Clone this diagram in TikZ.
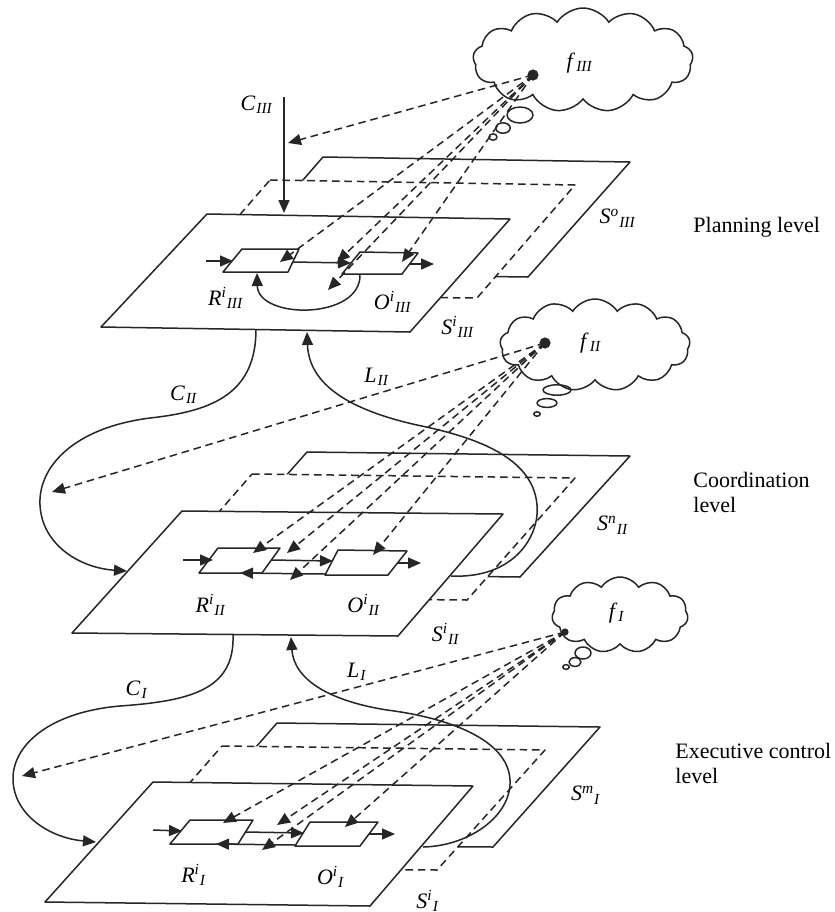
\documentclass[tikz,border=0pt]{standalone}
\usepackage{fontspec}
\setmainfont{Liberation Serif}
\usetikzlibrary{shapes.symbols,arrows.meta}
\newcommand{\lvl}[3]{\textit{#1}\textsuperscript{\textit{#2}}\textsubscript{\textit{#3}}}
\begin{document}
\begin{tikzpicture}[x=0.5pt,y=-0.5pt,
  ln/.style={line width=0.75pt, draw=black!85, line join=round},
  dsh/.style={ln, dash pattern=on 3.8pt off 2.4pt},
  tip/.style={-{Triangle[length=6.5pt,width=5.5pt]}},
  plane/.style={ln, fill=white},
  dplane/.style={dsh, fill=white},
  boxs/.style={ln},
  lab/.style={inner sep=0pt, font=\fontsize{11}{13}\selectfont},
  side/.style={inner sep=0pt, font=\fontsize{11}{12.5}\selectfont, align=left, anchor=west},
  cl/.style={cloud, cloud puffs=13, cloud puff arc=115, cloud ignores aspect, draw=black!85, line width=0.75pt, inner sep=0pt},
  bub/.style={ln}
]
\useasboundingbox (0,0) rectangle (835,912);

% ---------------- Planning level (III) ----------------
\draw[plane] (323,157) coordinate (B3a) -- (630,162) coordinate (B3b) -- (528,277) coordinate (B3c) -- (222,273) coordinate (B3d) -- cycle;
\draw[dplane] (270,180) coordinate (D3a) -- (575,185) coordinate (D3b) -- (477,298) coordinate (D3c) -- (170,295) coordinate (D3d) -- cycle;
\draw[plane] (207,214) coordinate (F3a) -- (510,219) coordinate (F3b) -- (410,332) coordinate (F3c) -- (101,327) coordinate (F3d) -- cycle;
\draw[boxs] (242,249) coordinate (R3a) -- (299,249) -- (288,272) -- (223,272) -- cycle;
\draw[boxs] (360,252) coordinate (O3a) -- (418,253) -- (402,274) -- (342,274) -- cycle;
\coordinate (i3s) at (206,261); \coordinate (i3e) at (233,261);
\coordinate (c3s) at (293,262); \coordinate (c3e) at (351,263);
\coordinate (o3s) at (409,264); \coordinate (o3e) at (434,264);
\draw[ln,tip] (i3s) -- (i3e);
\draw[ln,tip] (c3s) -- (c3e);
\draw[ln,tip] (o3s) -- (o3e);
\coordinate (a3s) at (360,274); \coordinate (a3e) at (257,273);
\draw[ln,tip] (a3s) .. controls (362,320) and (258,320) .. (a3e);
\coordinate (C3s) at (284,97); \coordinate (C3e) at (284,213);
\draw[ln,tip] (C3s) -- (C3e);

% ---------------- Coordination level (II) ----------------
\draw[plane] (307,452) coordinate (B2a) -- (630,456) coordinate (B2b) -- (520,577) coordinate (B2c) -- (200,573) coordinate (B2d) -- cycle;
\draw[dplane] (252,474) coordinate (D2a) -- (575,478) coordinate (D2b) -- (467,600) coordinate (D2c) -- (145,597) coordinate (D2d) -- cycle;
\draw[plane] (182,511) coordinate (F2a) -- (503,514) coordinate (F2b) -- (398,636) coordinate (F2c) -- (72,633) coordinate (F2d) -- cycle;
\draw[boxs] (218,548) coordinate (R2a) -- (280,548) -- (262,573) -- (199,573) -- cycle;
\draw[boxs] (338,550) coordinate (O2a) -- (407,551) -- (388,575) -- (325,575) -- cycle;
\coordinate (i2s) at (183,560); \coordinate (i2e) at (213,560);
\coordinate (c2s) at (271,560); \coordinate (c2e) at (333,561);
\coordinate (b2s) at (325,574); \coordinate (b2e) at (240,573);
\coordinate (o2s) at (397,563); \coordinate (o2e) at (421,563);
\draw[ln,tip] (i2s) -- (i2e);
\draw[ln,tip] (c2s) -- (c2e);
\draw[ln,tip] (b2s) -- (b2e);
\draw[ln,tip] (o2s) -- (o2e);

% ---------------- Executive level (I) ----------------
\draw[plane] (277,723) coordinate (B1a) -- (600,727) coordinate (B1b) -- (493,847) coordinate (B1c) -- (170,845) coordinate (B1d) -- cycle;
\draw[dplane] (222,746) coordinate (D1a) -- (545,750) coordinate (D1b) -- (437,870) coordinate (D1c) -- (115,868) coordinate (D1d) -- cycle;
\draw[plane] (153,782) coordinate (F1a) -- (473,786) coordinate (F1b) -- (370,906) coordinate (F1c) -- (45,902) coordinate (F1d) -- cycle;
\draw[boxs] (190,820) coordinate (R1a) -- (253,820) -- (238,844) -- (170,844) -- cycle;
\draw[boxs] (310,822) coordinate (O1a) -- (378,822) -- (360,846) -- (295,846) -- cycle;
\coordinate (i1s) at (153,830); \coordinate (i1e) at (182,831);
\coordinate (c1s) at (245,832); \coordinate (c1e) at (304,833);
\coordinate (b1s) at (295,845); \coordinate (b1e) at (216,844);
\coordinate (o1s) at (369,834); \coordinate (o1e) at (395,834);
\draw[ln,tip] (i1s) -- (i1e);
\draw[ln,tip] (c1s) -- (c1e);
\draw[ln,tip] (b1s) -- (b1e);
\draw[ln,tip] (o1s) -- (o1e);

% ---------------- C and L connectors ----------------
\coordinate (C2s) at (256,329); \coordinate (C2e) at (127,571);
\draw[ln,tip] (C2s) .. controls (256,392) and (215,411) .. (150,418)
  .. controls (72,428) and (38,468) .. (40,505)
  .. controls (42,545) and (80,568) .. (C2e);
\coordinate (L2s) at (451,576); \coordinate (L2e) at (307,332);
\draw[ln,tip] (L2s) .. controls (515,579) and (540,535) .. (537,505)
  .. controls (533,455) and (470,436) .. (417,425)
  .. controls (350,410) and (309,385) .. (L2e);
\coordinate (C1s) at (233,635); \coordinate (C1e) at (96,842);
\draw[ln,tip] (C1s) .. controls (235,690) and (190,701) .. (120,706)
  .. controls (50,712) and (12,745) .. (13,780)
  .. controls (14,815) and (50,838) .. (C1e);
\coordinate (L1s) at (423,847); \coordinate (L1e) at (291,637);
\draw[ln,tip] (L1s) .. controls (470,846) and (512,815) .. (510,780)
  .. controls (508,740) and (450,718) .. (387,710)
  .. controls (330,701) and (294,680) .. (L1e);

% ---------------- clouds ----------------
\node[cl, minimum width=110pt, minimum height=52pt] (cf3) at (583,60) {};
\node[cl, minimum width=95pt, minimum height=46pt] (cf2) at (595,345) {};
\node[cl, cloud puffs=11, minimum width=68pt, minimum height=38pt] (cf1) at (620,615) {};
\draw[bub] (520,115) ellipse [x radius=6.5pt, y radius=4pt];
\draw[bub] (503,128) ellipse [x radius=3.6pt, y radius=2.6pt];
\draw[bub] (493,137) ellipse [x radius=2pt, y radius=1.6pt];
\draw[bub] (557,390) ellipse [x radius=7pt, y radius=2.6pt];
\draw[bub] (547,403) ellipse [x radius=5pt, y radius=2.2pt];
\draw[bub] (537,414) ellipse [x radius=1.6pt, y radius=1.1pt];
\draw[bub] (583,653) ellipse [x radius=4pt, y radius=3pt];
\draw[bub] (575,662) ellipse [x radius=3pt, y radius=2.2pt];
\draw[bub] (566,667) ellipse [x radius=1.6pt, y radius=1.2pt];
\coordinate (d3) at (533,75); \coordinate (d2) at (545,343); \coordinate (d1) at (565,632);
\fill[black!85] (d3) circle (2.8pt);
\fill[black!85] (d2) circle (2.8pt);
\fill[black!85] (d1) circle (1.8pt);

% ---------------- dashed signal lines ----------------
\coordinate (t3a) at (288,143); \coordinate (t3b) at (280,262); \coordinate (t3c) at (337,262);
\coordinate (t3d) at (328,290); \coordinate (t3e) at (402,262);
\foreach \e in {t3a,t3b,t3c,t3d,t3e} \draw[dsh,tip] (d3) -- (\e);
\coordinate (t2a) at (52,492); \coordinate (t2b) at (253,553); \coordinate (t2c) at (287,553);
\coordinate (t2d) at (290,580); \coordinate (t2e) at (373,555);
\foreach \e in {t2a,t2b,t2c,t2d,t2e} \draw[dsh,tip] (d2) -- (\e);
\coordinate (t1a) at (22,776); \coordinate (t1b) at (223,823); \coordinate (t1c) at (277,825);
\coordinate (t1d) at (262,850); \coordinate (t1e) at (345,827);
\foreach \e in {t1a,t1b,t1c,t1d,t1e} \draw[dsh,tip] (d1) -- (\e);

% ---------------- labels ----------------
\node[lab] (lC3) at (257,105) {\lvl{C}{}{III}};
\node[lab] (lC2) at (184,395) {\lvl{C}{}{II}};
\node[lab] (lC1) at (137,690) {\lvl{C}{}{I}};
\node[lab] (lL2) at (377,377) {\lvl{L}{}{II}};
\node[lab] (lL1) at (357,672) {\lvl{L}{}{I}};
\node[lab] (lf3) at (580,63) {\lvl{f}{}{III}};
\node[lab] (lf2) at (591,343) {\lvl{f}{}{II}};
\node[lab] (lf1) at (617,613) {\lvl{f}{}{I}};
\node[lab] (lR3) at (226,298) {\lvl{R}{i}{III}};
\node[lab] (lO3) at (393,302) {\lvl{O}{i}{III}};
\node[lab] (lSi3) at (458,327) {\lvl{S}{i}{III}};
\node[lab] (lSo3) at (618,218) {\lvl{S}{o}{III}};
\node[lab] (lR2) at (211,605) {\lvl{R}{i}{II}};
\node[lab] (lO2) at (364,605) {\lvl{O}{i}{II}};
\node[lab] (lSi2) at (446,634) {\lvl{S}{i}{II}};
\node[lab] (lSn2) at (613,525) {\lvl{S}{n}{II}};
\node[lab] (lR1) at (194,875) {\lvl{R}{i}{I}};
\node[lab] (lO1) at (331,877) {\lvl{O}{i}{I}};
\node[lab] (lSi1) at (428,901) {\lvl{S}{i}{I}};
\node[lab] (lSm1) at (586,795) {\lvl{S}{m}{I}};
\node[side] (tp) at (693,227) {Planning level};
\node[side] (tc) at (693,492) {Coordination\\level};
\node[side] (te) at (675,763) {Executive control\\level};
\end{tikzpicture}
\end{document}
